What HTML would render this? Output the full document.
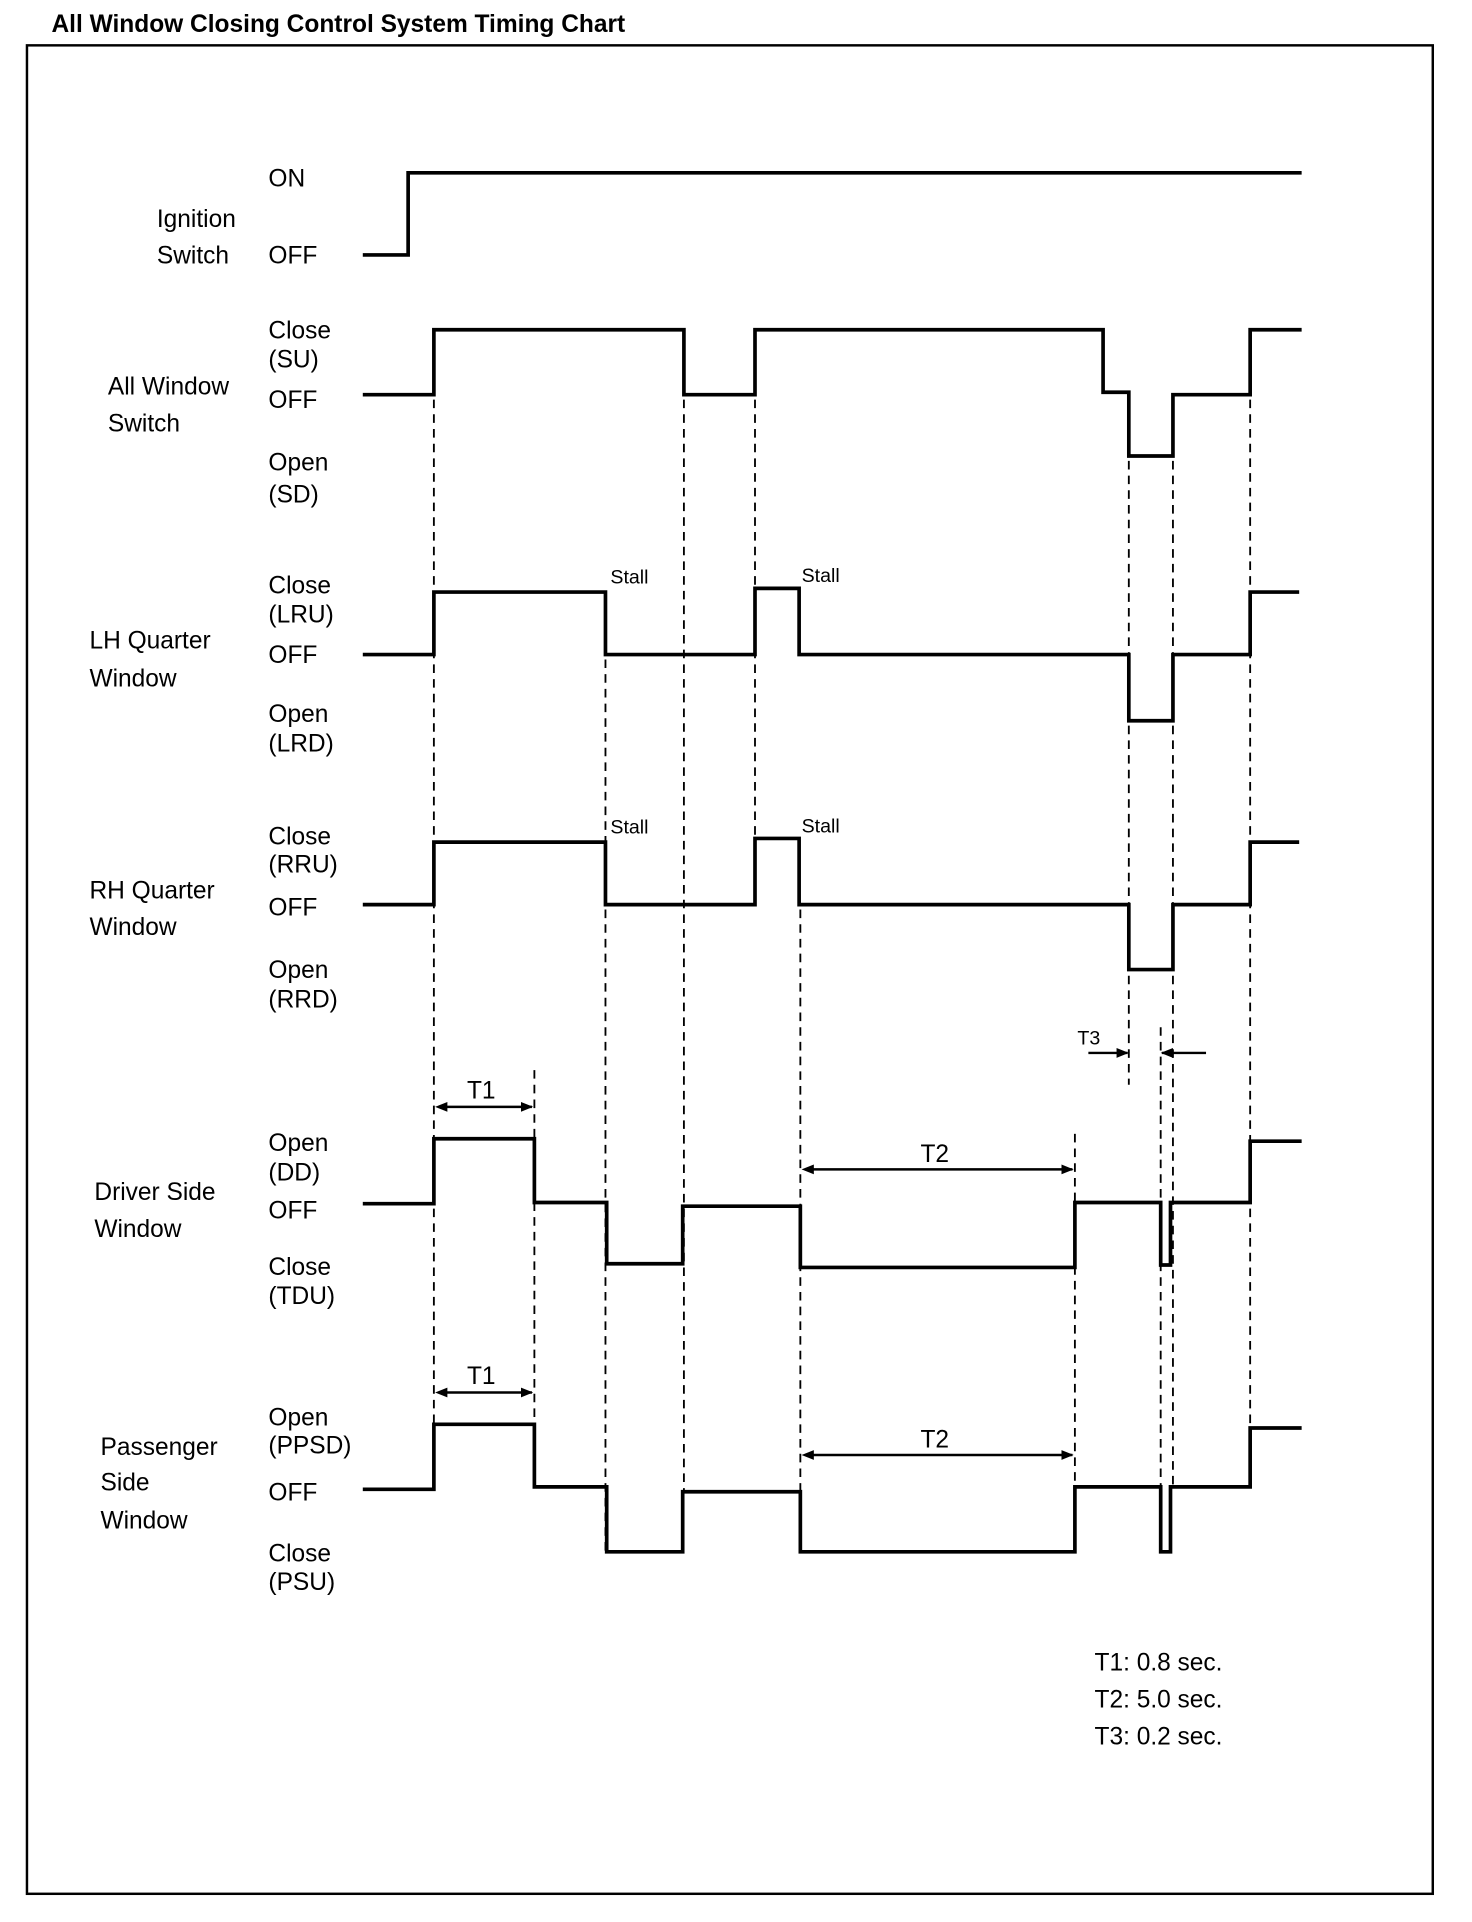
<!DOCTYPE html>
<html><head><meta charset="utf-8"><style>
html,body{margin:0;padding:0;background:#fff;}
svg{display:block;}
text{font-family:"Liberation Sans",Arial,sans-serif;fill:#000;}
</style></head><body>
<svg width="1472" height="1922" viewBox="0 0 1201 1568" preserveAspectRatio="none" xmlns="http://www.w3.org/2000/svg">
<defs>
<marker id="ah" markerWidth="10" markerHeight="8" refX="9" refY="4" orient="auto" markerUnits="userSpaceOnUse"><path d="M0,0 L10,4 L0,8 z" fill="#000"/></marker>
</defs>
<text x="42" y="26" font-size="20" font-weight="bold">All Window Closing Control System Timing Chart</text>
<rect x="22" y="37" width="1147" height="1508" fill="none" stroke="#000" stroke-width="2"/>

<g fill="none" stroke="#000" stroke-width="1.5" stroke-dasharray="7 5">
<line x1="354" y1="326" x2="354" y2="1215"/>
<line x1="558" y1="326" x2="558" y2="1217"/>
<line x1="616" y1="326" x2="616" y2="684"/>
<line x1="436" y1="873" x2="436" y2="1213"/>
<line x1="494" y1="538" x2="494" y2="1266"/>
<line x1="653" y1="742" x2="653" y2="1266"/>
<line x1="877" y1="925" x2="877" y2="1213"/>
<line x1="921" y1="376" x2="921" y2="885"/>
<line x1="957" y1="376" x2="957" y2="1213"/>
<line x1="947" y1="838" x2="947" y2="1266"/>
<line x1="1020" y1="326" x2="1020" y2="1213"/>
</g>

<g fill="none" stroke="#000" stroke-width="3" stroke-linejoin="miter">
<polyline points="296,208 333,208 333,141 1062,141"/>
<polyline points="296,322 354,322 354,269 558,269 558,322 616,322 616,269 900,269 900,320 921,320 921,372 957,372 957,322 1020,322 1020,269 1062,269"/>
<polyline points="296,534 354,534 354,483 494,483 494,534 616,534 616,480 652,480 652,534 921,534 921,588 957,588 957,534 1020,534 1020,483 1060,483"/>
<polyline points="296,738 354,738 354,687 494,687 494,738 616,738 616,684 652,684 652,738 921,738 921,791 957,791 957,738 1020,738 1020,687 1060,687"/>
<polyline points="296,982 354,982 354,929 436,929 436,981 495,981 495,1031 557,1031 557,984 653,984 653,1034 877,1034 877,981 947,981 947,1032 955,1032 955,981 1020,981 1020,931 1062,931"/>
<polyline points="296,1215 354,1215 354,1162 436,1162 436,1213 495,1213 495,1266 557,1266 557,1217 653,1217 653,1266 877,1266 877,1213 947,1213 947,1266 955,1266 955,1213 1020,1213 1020,1165 1062,1165"/>
</g>

<g stroke="#000" stroke-width="2" fill="none">
<line x1="358" y1="903" x2="434" y2="903" marker-end="url(#ah)"/>
<line x1="358" y1="1136" x2="434" y2="1136" marker-end="url(#ah)"/>
<line x1="657" y1="954" x2="875" y2="954" marker-end="url(#ah)"/>
<line x1="657" y1="1187" x2="875" y2="1187" marker-end="url(#ah)"/>
<line x1="888" y1="859" x2="920" y2="859" marker-end="url(#ah)"/>
<line x1="984" y1="859" x2="948" y2="859" marker-end="url(#ah)"/>
</g>
<g fill="#000">
<path d="M355,903 L365,899 L365,907 z"/>
<path d="M355,1136 L365,1132 L365,1140 z"/>
<path d="M654,954 L664,950 L664,958 z"/>
<path d="M654,1187 L664,1183 L664,1191 z"/>
</g>

<g font-size="20">
<text x="219" y="152">ON</text>
<text x="128" y="185">Ignition</text>
<text x="128" y="215">Switch</text>
<text x="219" y="215">OFF</text>

<text x="219" y="276">Close</text>
<text x="219" y="300">(SU)</text>
<text x="88" y="322">All Window</text>
<text x="88" y="352">Switch</text>
<text x="219" y="333">OFF</text>
<text x="219" y="384">Open</text>
<text x="219" y="410">(SD)</text>

<text x="219" y="484">Close</text>
<text x="219" y="508">(LRU)</text>
<text x="73" y="529">LH Quarter</text>
<text x="73" y="560">Window</text>
<text x="219" y="541">OFF</text>
<text x="219" y="589">Open</text>
<text x="219" y="613">(LRD)</text>

<text x="219" y="689">Close</text>
<text x="219" y="712">(RRU)</text>
<text x="73" y="733">RH Quarter</text>
<text x="73" y="763">Window</text>
<text x="219" y="747">OFF</text>
<text x="219" y="798">Open</text>
<text x="219" y="822">(RRD)</text>

<text x="219" y="939">Open</text>
<text x="219" y="963">(DD)</text>
<text x="77" y="979">Driver Side</text>
<text x="77" y="1009">Window</text>
<text x="219" y="994">OFF</text>
<text x="219" y="1040">Close</text>
<text x="219" y="1064">(TDU)</text>

<text x="219" y="1163">Open</text>
<text x="219" y="1186">(PPSD)</text>
<text x="82" y="1187">Passenger</text>
<text x="82" y="1216">Side</text>
<text x="82" y="1247">Window</text>
<text x="219" y="1224">OFF</text>
<text x="219" y="1274">Close</text>
<text x="219" y="1297">(PSU)</text>

<text x="381" y="896">T1</text>
<text x="381" y="1129">T1</text>
<text x="751" y="948">T2</text>
<text x="751" y="1181">T2</text>

<text x="893" y="1363">T1: 0.8 sec.</text>
<text x="893" y="1393">T2: 5.0 sec.</text>
<text x="893" y="1423">T3: 0.2 sec.</text>
</g>
<g font-size="16">
<text x="498" y="476">Stall</text>
<text x="654" y="475">Stall</text>
<text x="498" y="680">Stall</text>
<text x="654" y="679">Stall</text>
<text x="879" y="852">T3</text>
</g>
</svg>
</body></html>
